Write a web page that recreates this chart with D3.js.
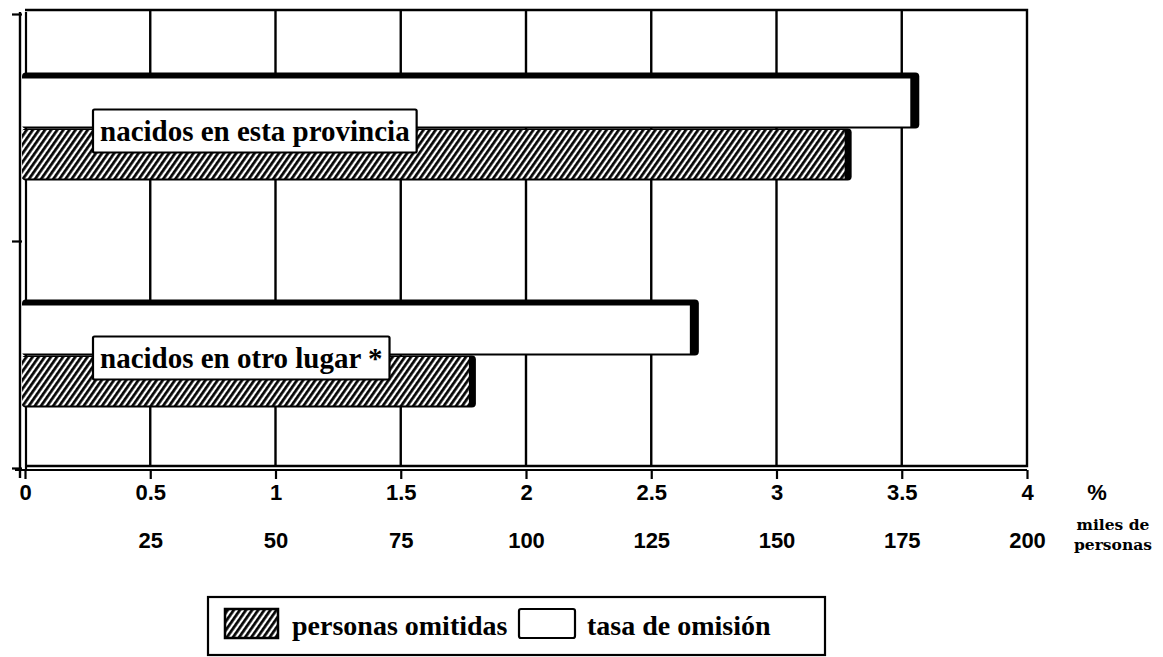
<!DOCTYPE html>
<html><head><meta charset="utf-8">
<script src="https://cdn.jsdelivr.net/npm/d3@7"></script>
<style>body{margin:0;background:#fff;} svg{display:block;}</style>
</head><body><svg id="chart" width="1163" height="657"></svg>
<script>
// ---- data ----
const categories = ["nacidos en esta provincia", "nacidos en otro lugar *"];
const tasaOmision = [3.57, 2.69];        // %
const personasOmitidas = [165, 90];      // miles de personas
const pctTicks = [0, 0.5, 1, 1.5, 2, 2.5, 3, 3.5, 4];
const pctTickLabels = ["0", "0.5", "1", "1.5", "2", "2.5", "3", "3.5", "4"];
const milesTicks = [25, 50, 75, 100, 125, 150, 175, 200];
const milesTickLabels = ["25", "50", "75", "100", "125", "150", "175", "200"];
const legendLabels = ["personas omitidas", "tasa de omisión"];
const unitPct = "%";
const unitMiles = ["miles de", "personas"];

(function () {
// ---- layout ----
const svg = d3.select("#chart");
const pLeft = 25, pRight = 1027, pTop = 10, pBottom = 468;
const x = d3.scaleLinear().domain([0, 4]).range([pLeft, pRight]);
const x2 = d3.scaleLinear().domain([0, 200]).range([pLeft, pRight]);
const y = d3.scaleBand().domain(categories).range([15, 469]);
const yEdge = d3.scaleLinear().domain([0, 2]).range([468, 14]);

const SERIF = "'Liberation Serif', 'Times New Roman', serif";
const SANS = "'Liberation Sans', Arial, sans-serif";

// hatch pattern
const defs = svg.append("defs");
const pat = defs.append("pattern").attr("id", "hatch")
  .attr("patternUnits", "userSpaceOnUse").attr("width", 5).attr("height", 10)
  .attr("patternTransform", "rotate(35)");
pat.append("rect").attr("width", 5).attr("height", 10).attr("fill", "#fff");
pat.append("line").attr("x1", 1.4).attr("y1", 0).attr("x2", 1.4).attr("y2", 10)
  .attr("stroke", "#000").attr("stroke-width", 2.7);

// gridlines
svg.append("g").selectAll("line").data(pctTicks.slice(1, -1)).join("line")
  .attr("x1", d => x(d)).attr("x2", d => x(d))
  .attr("y1", pTop).attr("y2", pBottom - 2)
  .attr("stroke", "#000").attr("stroke-width", 2.4);

// frame top/right/bottom
svg.append("path")
  .attr("d", `M${pLeft},${pTop}H${pRight}V${pBottom - 2}H${pLeft}`)
  .attr("fill", "none").attr("stroke", "#000").attr("stroke-width", 2.4);

// y axis (double line with ticks at band edges)
const yAx = svg.append("g").attr("transform", `translate(20,0)`)
  .call(d3.axisLeft(yEdge).tickValues([0, 1, 2]).tickFormat("").tickSize(10).tickSizeOuter(0));
yAx.select(".domain").remove();
yAx.selectAll(".tick line").attr("stroke", "#000").attr("stroke-width", 2.2).attr("transform", "translate(2,0)");
svg.append("line").attr("x1", 20).attr("x2", 20).attr("y1", 12).attr("y2", 478)
  .attr("stroke", "#000").attr("stroke-width", 2.4);
svg.append("line").attr("x1", 26).attr("x2", 26).attr("y1", 12).attr("y2", 470)
  .attr("stroke", "#000").attr("stroke-width", 2.2);

// bars
const x0 = 22;
const bars = svg.append("g");
categories.forEach((c, i) => {
  const cy = y(c) + y.bandwidth() / 2;
  const g = bars.append("g");
  // tasa de omisión (white bar with heavy top/right)
  const wTop = cy - 56, wH = 56, wEnd = x(tasaOmision[i]);
  g.append("rect").attr("x", x0).attr("y", wTop).attr("width", wEnd - x0).attr("height", wH)
    .attr("rx", 4).attr("fill", "#000");
  g.append("rect").attr("x", x0).attr("y", wTop + 6).attr("width", wEnd - x0 - 9).attr("height", wH - 8)
    .attr("fill", "#fff");
  // personas omitidas (hatched bar)
  const hTop = cy, hH = 52, hEnd = x2(personasOmitidas[i]);
  g.append("rect").attr("x", x0).attr("y", hTop).attr("width", hEnd - x0).attr("height", hH)
    .attr("rx", 4).attr("fill", "#000");
  g.append("rect").attr("x", x0).attr("y", hTop + 1.5).attr("width", hEnd - x0 - 7).attr("height", hH - 3.5)
    .attr("fill", "url(#hatch)");
  // label box
  const t = g.append("text").attr("x", 100).attr("y", cy + 12)
    .attr("font-family", SERIF).attr("font-weight", "bold").attr("font-size", 29)
    .attr("fill", "#000").text(c);
  const tw = t.node().getComputedTextLength();
  g.insert("rect", "text").attr("x", 93).attr("y", cy - 19).attr("width", tw + 14).attr("height", 43)
    .attr("rx", 1.5).attr("fill", "#fff").attr("stroke", "#000").attr("stroke-width", 2.2);
});

// x axis (%)
const xAx = svg.append("g").attr("transform", `translate(0,470)`)
  .call(d3.axisBottom(x).tickValues(pctTicks).tickFormat((d, i) => pctTickLabels[i]).tickSize(9).tickPadding(5).tickSizeOuter(0));
xAx.select(".domain").attr("stroke", "#000").attr("stroke-width", 2.2).attr("d", `M15,0H${pRight}`);
xAx.selectAll(".tick line").attr("stroke", "#000").attr("stroke-width", 2.2);
xAx.selectAll("text").attr("font-family", SANS).attr("font-weight", "bold").attr("font-size", 22).attr("fill", "#000");

// x axis (miles de personas)
const x2Ax = svg.append("g").attr("transform", `translate(0,527)`)
  .call(d3.axisBottom(x2).tickValues(milesTicks).tickFormat((d, i) => milesTickLabels[i]).tickSize(0).tickPadding(5));
x2Ax.select(".domain").remove();
x2Ax.selectAll("text").attr("font-family", SANS).attr("font-weight", "bold").attr("font-size", 22).attr("fill", "#000");

// unit labels
svg.append("text").attr("x", 1097).attr("y", 500).attr("text-anchor", "middle")
  .attr("font-family", SANS).attr("font-weight", "bold").attr("font-size", 22).text(unitPct);
svg.append("text").attr("x", 1113).attr("y", 530).attr("text-anchor", "middle")
  .attr("font-family", "'DejaVu Serif', serif").attr("font-weight", "bold").attr("font-size", 15.5).text(unitMiles[0]);
svg.append("text").attr("x", 1113).attr("y", 550).attr("text-anchor", "middle")
  .attr("font-family", "'DejaVu Serif', serif").attr("font-weight", "bold").attr("font-size", 15.5).text(unitMiles[1]);

// legend
const lg = svg.append("g");
lg.append("rect").attr("x", 208).attr("y", 597).attr("width", 617).attr("height", 58)
  .attr("fill", "#fff").attr("stroke", "#000").attr("stroke-width", 2.2);
lg.append("rect").attr("x", 225).attr("y", 609).attr("width", 53).attr("height", 29)
  .attr("fill", "url(#hatch)").attr("stroke", "#000").attr("stroke-width", 2.5);
lg.append("text").attr("x", 292).attr("y", 635)
  .attr("font-family", SERIF).attr("font-weight", "bold").attr("font-size", 28).text(legendLabels[0]);
lg.append("rect").attr("x", 519).attr("y", 609).attr("width", 56).attr("height", 29).attr("rx", 2)
  .attr("fill", "#fff").attr("stroke", "#000").attr("stroke-width", 2.2);
lg.append("text").attr("x", 587).attr("y", 635)
  .attr("font-family", SERIF).attr("font-weight", "bold").attr("font-size", 28).text(legendLabels[1]);
})();
</script>
</body></html>
